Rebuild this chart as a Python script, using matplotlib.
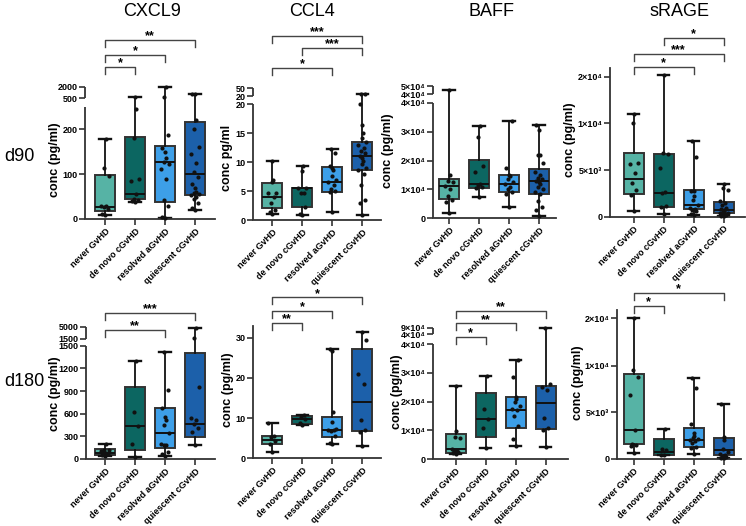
import numpy as np
import matplotlib
matplotlib.use('Agg')
import matplotlib.pyplot as plt
from matplotlib.transforms import blended_transform_factory

plt.rcParams['font.family'] = ['Liberation Sans', 'DejaVu Sans']

groups = ['never GvHD', 'de novo cGvHD', 'resolved aGvHD', 'quiescent cGvHD']
colors = ['#56b3a5', '#0c6661', '#3d9fe8', '#1c60aa']
markers = ['CXCL9', 'CCL4', 'BAFF', 'sRAGE']
timepoints = ['d90', 'd180']

# box stats per group: (min, q1, median, q3, max)
cxcl9_d90_box = [(9, 18, 27, 98, 178), (38, 44, 55, 183, 600), (2, 39, 127, 163, 2000), (20, 53, 101, 216, 1045)]
cxcl9_d90_pts = [[9, 11, 22, 27, 29, 30, 95, 113, 178],
                 [38, 40, 42, 45, 55, 85, 90, 180, 245, 600],
                 [2, 5, 29, 42, 89, 112, 122, 127, 136, 150, 158, 187, 600, 2000],
                 [20, 24, 35, 45, 50, 53, 55, 58, 60, 70, 79, 94, 105, 124, 144, 160, 200, 220, 1000, 1045]]
ccl4_d90_box = [(1.1, 2.0, 3.9, 6.4, 10.2), (0.9, 2.3, 5.5, 5.5, 9.4), (1.3, 4.8, 6.6, 9.2, 12.2), (0.9, 8.6, 11.1, 13.5, 28)]
ccl4_d90_pts = [[1.1, 1.3, 1.8, 3.0, 3.9, 4.7, 4.7, 6.6, 6.9, 10.2],
                [0.9, 1.0, 2.3, 4.7, 4.7, 5.5, 5.6, 8.5, 9.4],
                [1.3, 4.8, 5.0, 5.3, 6.0, 6.6, 7.0, 7.6, 8.6, 9.0, 9.3, 11.5, 12.2],
                [0.9, 3.0, 3.5, 6.0, 8.0, 8.6, 9.0, 9.6, 10.2, 10.8, 11.1, 11.5, 12.0, 12.5, 13.0, 13.5,
                 14.2, 15.0, 16.4, 20.0, 27.5, 28]]
baff_d90_box = [(2000, 6550, 11200, 13550, 44800), (7200, 10600, 12000, 20300, 32000),
                (3800, 9000, 11900, 15100, 33700), (800, 8300, 12900, 17000, 32400)]
baff_d90_pts = [[2000, 5500, 6200, 7800, 10000, 11200, 12500, 13000, 15000, 44800],
                [7200, 10600, 11000, 11500, 12000, 16000, 18000, 28000, 32000],
                [3800, 8500, 9000, 10200, 11000, 11900, 12500, 13500, 14500, 15100, 17500, 33700],
                [800, 3000, 4000, 6000, 8300, 9000, 10000, 11000, 12000, 12500, 13000, 13500, 14000,
                 15000, 16000, 19000, 22000, 22000, 30500, 32400]]
srage_d90_box = [(640, 2400, 4000, 6790, 11900), (290, 1070, 2570, 6750, 20300),
                 (180, 790, 1250, 2860, 8100), (50, 360, 720, 1600, 3470)]
srage_d90_pts = [[640, 2300, 2850, 3650, 4650, 5600, 5800, 10000, 11900],
                 [290, 1000, 1180, 2570, 2650, 5200, 6700, 6800, 20300],
                 [180, 300, 600, 700, 800, 950, 1250, 1800, 2200, 2700, 2800, 6360, 8100],
                 [50, 100, 200, 250, 300, 360, 400, 500, 600, 720, 800, 900, 1200, 1500, 1700, 2900, 3100, 3470]]

cxcl9_d180_box = [(44, 53, 83, 128, 194), (30, 119, 440, 947, 1300), (44, 150, 340, 673, 1410), (185, 295, 458, 1397, 4530)]
cxcl9_d180_pts = [[44, 55, 60, 70, 85, 100, 115, 125, 194],
                  [30, 198, 440, 625, 1300],
                  [44, 60, 95, 185, 190, 200, 340, 450, 520, 560, 680, 910, 1410],
                  [185, 360, 405, 458, 516, 538, 950, 1600, 4530]]
ccl4_d180_box = [(1.65, 3.6, 4.5, 5.6, 8.7), (8.3, 8.5, 9.8, 10.5, 10.8), (3.5, 5.3, 7.0, 10.2, 27.1), (3.1, 6.9, 13.9, 27.2, 31.5)]
ccl4_d180_pts = [[1.65, 3.6, 4.2, 5.2, 5.6, 8.7],
                 [8.3, 8.8, 9.8, 10.3, 10.7],
                 [3.5, 3.8, 5.5, 6.8, 7.0, 7.0, 7.2, 9.0, 11.5, 26.8, 27.1],
                 [3.1, 6.5, 7.0, 9.5, 18.5, 21.0, 29.5, 31.5]]
baff_d180_box = [(2000, 2300, 3600, 8800, 25500), (3800, 7600, 13900, 22900, 28900),
                 (4700, 11000, 17100, 21700, 34500), (4300, 10400, 19400, 25500, 90000)]
baff_d180_pts = [[2000, 2200, 2500, 2800, 3000, 3600, 7500, 7800, 9700, 25500],
                 [3800, 11000, 14000, 17500, 28900],
                 [4700, 7000, 11500, 15000, 17100, 17500, 18500, 20000, 21000, 21500, 28500, 34500],
                 [4300, 10000, 11000, 14500, 24000, 25000, 26000, 90000]]
srage_d180_box = [(680, 1600, 3100, 9070, 20000), (400, 430, 780, 2140, 3200),
                  (540, 1250, 2030, 3280, 8640), (70, 430, 960, 2280, 5890)]
srage_d180_pts = [[680, 1400, 1500, 1650, 3100, 6850, 8750, 9560, 20000],
                  [400, 470, 950, 1030, 3200],
                  [540, 1200, 1300, 1700, 1900, 2030, 2100, 2200, 2500, 2800, 3800, 7600, 8640],
                  [70, 150, 200, 300, 400, 500, 700, 1100, 2000, 2400, 5890]]

# significance: (group i, group j, stars)
sig_cxcl9_d90 = [(0, 3, '**'), (0, 2, '*'), (0, 1, '*')]
sig_ccl4_d90 = [(0, 3, '***'), (1, 3, '***'), (0, 2, '*'), (2, 3, '**')]
sig_baff_d90 = []
sig_srage_d90 = [(1, 3, '*'), (0, 3, '***'), (0, 2, '*')]
sig_cxcl9_d180 = [(0, 3, '***'), (0, 2, '**')]
sig_ccl4_d180 = [(0, 3, '*'), (0, 2, '*'), (0, 1, '**')]
sig_baff_d180 = [(0, 3, '**'), (0, 2, '**'), (0, 1, '*')]
sig_srage_d180 = [(0, 3, '*'), (0, 1, '*')]

W, H = 746, 526
fig = plt.figure(figsize=(W / 100, H / 100), dpi=100)


def piecewise(vals, hts):
    vals = np.asarray(vals, float)
    hts = np.asarray(hts, float)
    s_lo = (hts[1] - hts[0]) / (vals[1] - vals[0])
    s_hi = (hts[-1] - hts[-2]) / (vals[-1] - vals[-2])

    def fwd(v):
        v = np.asarray(v, float)
        return np.where(v < vals[0], hts[0] + (v - vals[0]) * s_lo,
                        np.where(v > vals[-1], hts[-1] + (v - vals[-1]) * s_hi, np.interp(v, vals, hts)))

    def inv(h):
        h = np.asarray(h, float)
        return np.where(h < hts[0], vals[0] + (h - hts[0]) / s_lo,
                        np.where(h > hts[-1], vals[-1] + (h - hts[-1]) / s_hi, np.interp(h, hts, vals)))
    return fwd, inv


def sci(v):
    sup = str.maketrans('0123456789', '⁰¹²³⁴⁵⁶⁷⁸⁹')
    if v == 0:
        return '0'
    e = int(np.floor(np.log10(v)))
    m = v / 10 ** e
    return f'{m:g}×10' + str(e).translate(sup)


# layout of each panel in pixels
panels = [
    # d90
    dict(box=cxcl9_d90_box, pts=cxcl9_d90_pts, sig=sig_cxcl9_d90, sig_y=[40, 55, 67],
         spine=85, zero=219, first=105, end=215, knots=[0, 250, 500, 2000], hts=[0, 112, 121, 132], top=132,
         ticks=[0, 100, 200], seg=(500, 2000), fmt=str, ylabel='conc (pg/ml)', lab=(55, 160)),
    dict(box=ccl4_d90_box, pts=ccl4_d90_pts, sig=sig_ccl4_d90, sig_y=[36, 48, 68],
         spine=253.3, zero=220, first=272.3, end=381, knots=[0, 20, 20.01, 50], hts=[0, 115.7, 124, 131.7], top=131.7,
         ticks=[0, 5, 10, 15, 20], seg=(20.01, 50), fmt=lambda v: f'{v:.0f}', ylabel='conc pg/ml', lab=(227, 158)),
    dict(box=baff_d90_box, pts=baff_d90_pts, sig=sig_baff_d90, sig_y=[],
         spine=433.3, zero=218.3, first=449, end=556, knots=[0, 4e4, 4.001e4, 5e4], hts=[0, 115.6, 124, 132.3], top=132.3,
         ticks=[0, 1e4, 2e4, 3e4, 4e4], seg=(4.001e4, 5e4), fmt=lambda v: sci(round(v, -3)), ylabel='conc (pg/ml)', lab=(388, 151)),
    dict(box=srage_d90_box, pts=srage_d90_pts, sig=sig_srage_d90, sig_y=[38, 54, 67],
         spine=610, zero=216.7, first=633.7, end=745, knots=[0, 1e4, 2e4], hts=[0, 93.4, 140], top=148.4,
         ticks=[0, 5e3, 1e4, 2e4], seg=None, fmt=sci, ylabel='conc (pg/ml)', lab=(570, 140)),
    # d180
    dict(box=cxcl9_d180_box, pts=cxcl9_d180_pts, sig=sig_cxcl9_d180, sig_y=[312.7, 330],
         spine=86, zero=459, first=105, end=215, knots=[0, 1500, 1500.01, 5000], hts=[0, 113.3, 120.3, 132.3], top=132.3,
         ticks=[0, 300, 600, 900, 1200, 1500], seg=(1500.01, 5000), fmt=lambda v: f'{v:.0f}', ylabel='conc (pg/ml)', lab=(55, 394)),
    dict(box=ccl4_d180_box, pts=ccl4_d180_pts, sig=sig_ccl4_d180, sig_y=[297.3, 311, 322.7],
         spine=253.3, zero=458.3, first=272.3, end=381, knots=[0, 33], hts=[0, 132.7], top=132.7,
         ticks=[0, 10, 20, 30], seg=None, fmt=lambda v: f'{v:.0f}', ylabel='conc (pg/ml)', lab=(228, 390)),
    dict(box=baff_d180_box, pts=baff_d180_pts, sig=sig_baff_d180, sig_y=[310.7, 323.3, 336.7],
         spine=433.3, zero=459.3, first=455.7, end=568, knots=[0, 4e4, 4.001e4, 9e4], hts=[0, 115.3, 125.3, 131.6], top=131.6,
         ticks=[0, 1e4, 2e4, 3e4, 4e4], seg=(4.001e4, 9e4), fmt=lambda v: sci(round(v, -3)), ylabel='conc (pg/ml)', lab=(397, 392)),
    dict(box=srage_d180_box, pts=srage_d180_pts, sig=sig_srage_d180, sig_y=[292.7, 305.7],
         spine=617, zero=459, first=633.7, end=741, knots=[0, 1e4, 2e4], hts=[0, 93.3, 140.7], top=149,
         ticks=[0, 5e3, 1e4, 2e4], seg=None, fmt=sci, ylabel='conc (pg/ml)', lab=(578, 383)),
]

edge = '#333333'
jit = [0, -0.09, 0.09, -0.045, 0.045, -0.13, 0.13, -0.02, 0.02]

for p in panels:
    wpx = p['end'] - p['spine']
    ax = fig.add_axes([p['spine'] / W, 1 - p['zero'] / H, wpx / W, p['top'] / H])
    fwd, inv = piecewise(p['knots'], p['hts'])
    ax.set_yscale('function', functions=(fwd, inv))
    ax.set_ylim(0, float(inv(p['top'])))
    x0 = -(p['first'] - p['spine']) / 30
    ax.set_xlim(x0, x0 + wpx / 30)

    stats = [dict(whislo=b[0], q1=b[1], med=b[2], q3=b[3], whishi=b[4], fliers=[]) for b in p['box']]
    bp = ax.bxp(stats, positions=range(4), widths=0.66, patch_artist=True, showfliers=False,
                boxprops=dict(edgecolor=edge, linewidth=1.4),
                medianprops=dict(color='#111111', linewidth=1.4),
                whiskerprops=dict(color='#111111', linewidth=1.3),
                capprops=dict(color='#111111', linewidth=1.7), capwidths=0.38)
    for patch, c in zip(bp['boxes'], colors):
        patch.set_facecolor(c)
    for k in bp:
        for a in bp[k]:
            a.set_clip_on(False)

    for i, vals in enumerate(p['pts']):
        v = np.sort(np.asarray(vals, float))
        xs = i + np.array([jit[k % len(jit)] for k in range(len(v))])
        ax.scatter(xs, v, s=9, color='#111111', linewidths=0, zorder=5, clip_on=False)

    for s in ['top', 'right']:
        ax.spines[s].set_visible(False)
    ax.spines['bottom'].set_color(edge)
    ax.spines['bottom'].set_linewidth(1.3)

    ticks = list(p['ticks'])
    labels = [p['fmt'](t) for t in ticks]
    if p['seg'] is not None:
        ax.spines['left'].set_visible(False)
        tr = blended_transform_factory(ax.transAxes, ax.transData)
        for a, b in [(0, p['knots'][1]), p['seg']]:
            ax.plot([0, 0], [a, b], transform=tr, color=edge, lw=1.3, clip_on=False, solid_capstyle='butt')
        ticks += list(p['seg'])
        labels += [p['fmt'](t) for t in p['seg']]
    else:
        ax.spines['left'].set_color(edge)
        ax.spines['left'].set_linewidth(1.3)
    ax.set_yticks(ticks)
    ax.set_yticklabels(labels)
    ax.yaxis.set_minor_locator(matplotlib.ticker.NullLocator())
    ax.tick_params(axis='both', length=4, width=1.2, color=edge, labelsize=6.5, pad=1.5)
    for t in ax.get_yticklabels():
        t.set_fontweight('bold')
    ax.set_xticks(range(4))
    ax.set_xticklabels(groups, rotation=45, ha='right', rotation_mode='anchor', fontsize=6.5, fontweight='bold')
    ax.patch.set_alpha(0)

    fig.text(p['lab'][0] / W, 1 - p['lab'][1] / H, p['ylabel'], rotation=90, ha='center', va='center',
             fontsize=9, fontweight='bold')

    trb = blended_transform_factory(ax.transData, fig.transFigure)
    for (i, j, lab), ypx in zip(p['sig'], p['sig_y']):
        y = 1 - ypx / H
        d = 7 / H
        ax.plot([i, i, j, j], [y - d, y, y, y - d], transform=trb, color='#444444', lw=1.0, clip_on=False)
        ax.text((i + j) / 2, y + 0.5 / H, lab, transform=trb, ha='center', va='baseline',
                fontsize=9, fontweight='bold')

for name, x in zip(markers, [151.7, 311.7, 491, 680]):
    fig.text(x / W, 1 - 11 / H, name, ha='center', va='center', fontsize=13)
for name, y in zip(timepoints, [157, 381]):
    fig.text(4 / W, 1 - y / H, name, ha='left', va='center', fontsize=13)

fig.savefig('out.png', dpi=100)
